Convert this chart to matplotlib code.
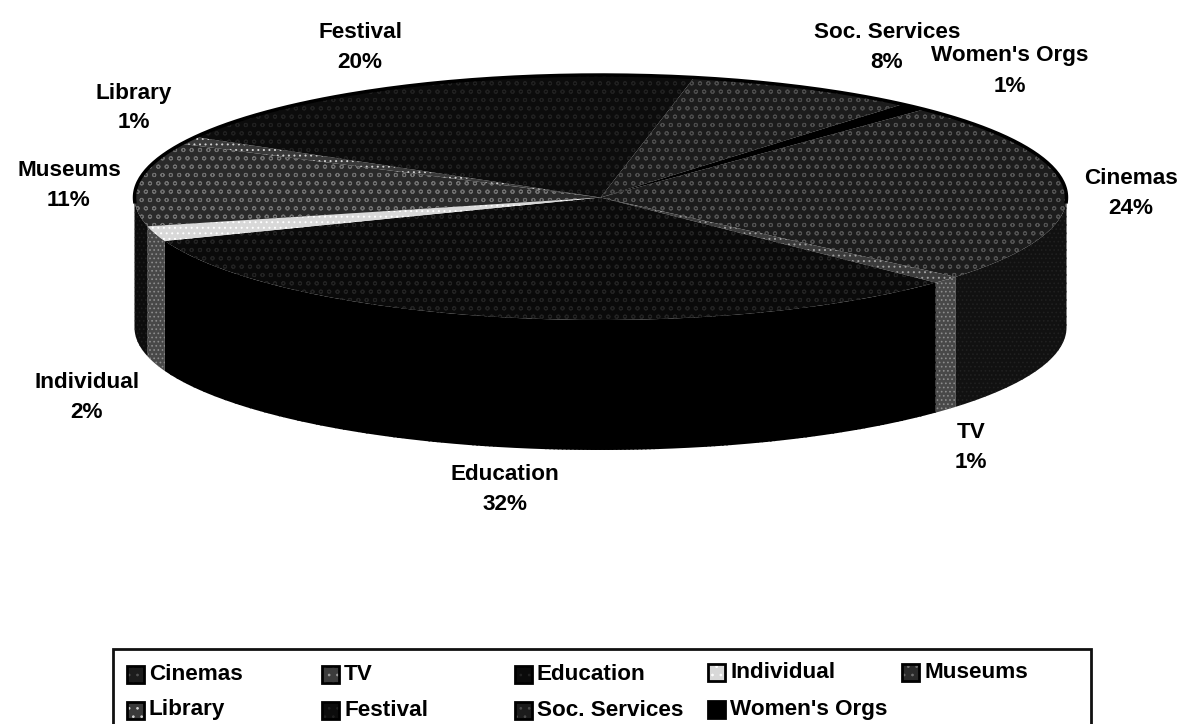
import matplotlib
matplotlib.use("Agg")
import matplotlib.pyplot as plt
import numpy as np
from matplotlib.patches import Rectangle

WIDTH, HEIGHT = 1179, 724

labels = ["Cinemas", "TV", "Education", "Individual", "Museums",
          "Library", "Festival", "Soc. Services", "Women's Orgs"]
shares = [24, 1, 32, 2, 11, 1, 20, 8, 1]

face_colors = ["#1c1c1c", "#3c3c3c", "#0a0a0a", "#d8d8d8", "#2a2a2a",
               "#3a3a3a", "#0c0c0c", "#1c1c1c", "#000000"]
hatch_colors = ["#525252", "#a0a0a0", "#222222", "#ffffff", "#707070",
                "#d0d0d0", "#202020", "#4c4c4c", "#000000"]
hatches = ["oo", "...", "oo", "...", "oo", "...", "oo", "oo", None]
wall_colors = ["#111111", "#484848", "#000000", "#484848", "#0c0c0c",
               "#484848", "#0c0c0c", "#0c0c0c", "#000000"]
wall_hatch_colors = ["#202020", "#8c8c8c", "#000000", "#8c8c8c", "#1c1c1c",
                     "#8c8c8c", "#1c1c1c", "#1c1c1c", "#000000"]

# label centres and legend swatch positions, in pixels from the top left
label_pos = [(1131, 193), (971, 448), (505, 490), (87, 397), (69, 186),
             (134, 108), (360, 48), (887, 48), (1010, 71)]
legend_pos = [(127, 674), (322, 674), (515, 674), (708, 672), (902, 672),
              (127, 710), (322, 710), (515, 710), (708, 709)]

# ellipse of the pie top, in pixels
CX, CY, RX, RY = 600.5, 197.5, 466, 122.5
DEPTH = 130
START_ANGLE = 46
LINE_GAP = 15

plt.rcParams["font.family"] = ["Liberation Sans", "DejaVu Sans"]
plt.rcParams["hatch.linewidth"] = 0.7


def fig_xy(x, y):
    return x / WIDTH, 1 - y / HEIGHT


def draw_walls(ax):
    # Only the part of the rim facing the viewer (180 to 360 degrees) shows.
    depth = DEPTH / RY
    ends = START_ANGLE - np.cumsum(shares) * 3.6
    starts = ends + np.asarray(shares) * 3.6
    for hi, lo, color, hatch_color in zip(starts, ends, wall_colors, wall_hatch_colors):
        for shift in (0, -360):
            a, b = max(lo + shift, -180), min(hi + shift, 0)
            if a >= b:
                continue
            t = np.radians(np.linspace(a, b, 60))
            xs = np.r_[np.cos(t), np.cos(t)[::-1]]
            ys = np.r_[np.sin(t), np.sin(t)[::-1] - depth]
            ax.fill(xs, ys, facecolor=color, edgecolor=hatch_color, hatch="....",
                    lw=0, zorder=1)


fig = plt.figure(figsize=(WIDTH / 100, HEIGHT / 100), dpi=100)
ax = fig.add_axes([0, 0, 1, 1])

wedges, _ = ax.pie(shares, startangle=START_ANGLE, counterclock=False,
                   colors=face_colors, hatch=hatches, radius=1,
                   wedgeprops={"linewidth": 0})
for wedge, color in zip(wedges, hatch_colors):
    wedge.set_edgecolor(color)
    wedge.set_zorder(3)
draw_walls(ax)

# dark rim along the back of the top face
rim = np.radians(np.linspace(-2, 182, 200))
ax.plot(np.cos(rim), np.sin(rim), color="#000000", lw=2.5, zorder=4)

ax.set_aspect("auto")
ax.set_xlim(-CX / RX, (WIDTH - CX) / RX)
ax.set_ylim((CY - HEIGHT) / RY, CY / RY)

# name and percentage are separate texts so their boxes stay tight
for name, share, (x, y) in zip(labels, shares, label_pos):
    for line, line_y in ((name, y - LINE_GAP), (f"{share}%", y + LINE_GAP)):
        fx, fy = fig_xy(x, line_y)
        fig.text(fx, fy, line, ha="center", va="center",
                 fontsize=16.2, fontweight="bold", color="#000000")

# legend box runs off the bottom edge of the figure
x0, y0 = fig_xy(113, 649)
x1, y1 = fig_xy(1091, 760)
fig.add_artist(Rectangle((x0, y1), x1 - x0, y0 - y1, transform=fig.transFigure,
                         facecolor="white", edgecolor="#111111", linewidth=2))
for name, color, hatch_color, (x, y) in zip(labels, face_colors, hatch_colors, legend_pos):
    sx, sy = fig_xy(x, y + 9)
    for fill, edge, style, lw in ((True, hatch_color, "..", 0), (False, "#000000", None, 2)):
        fig.add_artist(Rectangle((sx, sy), 17 / WIDTH, 17 / HEIGHT, transform=fig.transFigure,
                                 fill=fill, facecolor=color, edgecolor=edge, hatch=style,
                                 linewidth=lw))
    fx, fy = fig_xy(x + 22, y)
    fig.text(fx, fy, name, ha="left", va="center", fontsize=16.2,
             fontweight="bold", color="#000000")

fig.savefig("out.png", dpi=100)
plt.close(fig)
